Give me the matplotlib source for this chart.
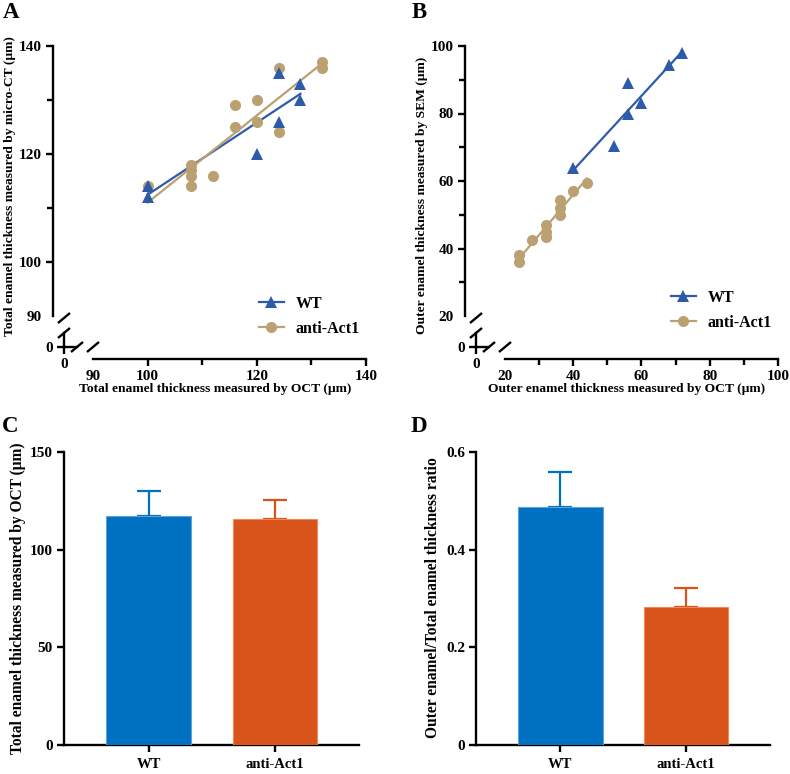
import numpy as np
import matplotlib
matplotlib.use('Agg')
import matplotlib.pyplot as plt
from matplotlib.lines import Line2D

plt.rcParams['font.family'] = ['Liberation Serif', 'DejaVu Serif']
plt.rcParams['font.weight'] = 'bold'
plt.rcParams['axes.labelweight'] = 'bold'

# ---------------- data ----------------
groups = ['WT', 'anti-Act1']

a_wt_x = [100, 100, 120, 124, 124, 128, 128]
a_wt_y = [114, 112, 120, 135, 126, 133, 130]
a_ko_x = [100, 108, 108, 108, 108, 112, 116, 116, 120, 120, 124, 124, 132, 132]
a_ko_y = [114, 118, 117, 116, 114, 116, 129, 125, 130, 126, 136, 124, 137, 136]

b_wt_x = [40, 52, 56, 56, 60, 68, 72]
b_wt_y = [64, 70.5, 89, 80, 83, 94.5, 98]
b_ko_x = [24, 24, 28, 32, 32, 32, 36, 36, 36, 40, 44]
b_ko_y = [38, 36, 42.5, 47, 45, 43.5, 54.5, 52, 50, 57, 59.5]

c_mean = [117.2, 115.9]
c_sd = [12.8, 9.5]
d_mean = [0.488, 0.283]
d_sd = [0.071, 0.039]

# ---------------- style ----------------
W, H = 790, 774
C_WT = '#2D5BAA'
C_KO = '#BBA071'
BAR_C = ['#0070C0', '#D9541A']
BAR_E = ['#5DA3DC', '#EE8A5C']
LW = 1.7
TICK_FS = 11
LAB_FS = 9.7
BAR_LAB_FS = 11.2

fig = plt.figure(figsize=(W / 100, H / 100), dpi=100)


def rect(x0, y0, x1, y1):
    return [x0 / W, 1 - y1 / H, (x1 - x0) / W, (y1 - y0) / H]


def fpt(x, y):
    return x / W, 1 - y / H


def style_axes(ax):
    for s in ['top', 'right']:
        ax.spines[s].set_visible(False)
    for s in ['left', 'bottom']:
        ax.spines[s].set_linewidth(LW)
    ax.tick_params(which='major', direction='out', length=5, width=LW,
                   labelsize=TICK_FS, pad=3)
    ax.tick_params(which='minor', direction='out', length=4.5, width=LW)


def slash(cx, cy):
    x0, y0 = fpt(cx - 6, cy + 5)
    x1, y1 = fpt(cx + 6, cy - 5)
    fig.add_artist(Line2D([x0, x1], [y0, y1], transform=fig.transFigure,
                          color='black', lw=LW, solid_capstyle='butt'))


def scatter_panel(px, wt_x, wt_y, ko_x, ko_y, lo, hi, major, minor,
                  xlabel, ylabel, ylab_cy, leg_xy):
    x0 = px
    ax = fig.add_axes(rect(x0 + 29, 46, x0 + 302, 316))
    style_axes(ax)
    ax.spines['left'].set_position(('outward', 29))
    ax.spines['bottom'].set_position(('outward', 31))
    ax.set_xlim(lo, hi)
    ax.set_ylim(lo, hi)
    ax.set_xticks(major)
    ax.set_yticks(major)
    ax.set_xticks(minor, minor=True)
    ax.set_yticks(minor, minor=True)
    ax.xaxis.get_major_ticks()[0].tick1line.set_visible(False)
    ax.yaxis.get_major_ticks()[0].tick1line.set_visible(False)

    for xs, ys, c in [(wt_x, wt_y, C_WT), (ko_x, ko_y, C_KO)]:
        xs = np.asarray(xs, float)
        ys = np.asarray(ys, float)
        k, b = np.polyfit(xs, ys, 1)
        xl = np.array([xs.min(), xs.max()])
        ax.plot(xl, k * xl + b, color=c, lw=1.6, zorder=2)
    ax.plot(ko_x, ko_y, 'o', color=C_KO, ms=8, mew=0, zorder=3)
    ax.plot(wt_x, wt_y, '^', color=C_WT, ms=8.5, mew=0, zorder=4)

    h1 = Line2D([], [], color=C_WT, lw=1.6, marker='^', ms=8.5, mew=0)
    h2 = Line2D([], [], color=C_KO, lw=1.6, marker='o', ms=8, mew=0)
    lx, ly = fpt(*leg_xy)
    ax.legend([h1, h2], groups, loc='upper left', bbox_to_anchor=(lx, ly),
              bbox_transform=fig.transFigure, frameon=False, borderpad=0,
              borderaxespad=0, handlelength=1.55, handletextpad=0.75,
              labelspacing=0.55, numpoints=1, prop={'size': 11.5, 'weight': 'bold'})

    # corner stub axes (origin part of the broken axes)
    cx = fig.add_axes(rect(x0, 333, x0 + 13, 347))
    style_axes(cx)
    cx.patch.set_visible(False)
    cx.set_xlim(0, 1)
    cx.set_ylim(0, 1)
    cx.set_xticks([0])
    cx.set_yticks([0])

    slash(x0, 318)
    slash(x0, 333)
    slash(x0 + 13, 347)
    slash(x0 + 29, 347)

    xx, yy = fpt(x0 + 151, 389)
    fig.text(xx, yy, xlabel, ha='center', va='center', fontsize=LAB_FS, fontweight='bold')
    xx, yy = fpt(px - 54, ylab_cy)
    fig.text(xx, yy, ylabel, ha='center', va='center', rotation=90,
             fontsize=LAB_FS, fontweight='bold')
    return ax


scatter_panel(64, a_wt_x, a_wt_y, a_ko_x, a_ko_y, 90, 140,
              [90, 100, 120, 140], [110, 130],
              'Total enamel thickness measured by OCT (μm)',
              'Total enamel thickness measured by micro-CT (μm)', 186, (259, 296))
scatter_panel(476, b_wt_x, b_wt_y, b_ko_x, b_ko_y, 20, 100,
              [20, 40, 60, 80, 100], [30, 50, 70, 90],
              'Outer enamel thickness measured by OCT (μm)',
              'Outer enamel thickness measured by SEM (μm)', 195, (671, 290))


def bar_panel(px, pr, means, sds, ymax, yticks, yticklabels, ylabel, ylab_x):
    ax = fig.add_axes(rect(px, 452, pr, 745))
    style_axes(ax)
    x = np.arange(len(groups))
    ax.bar(x, means, width=0.67, color=BAR_C, edgecolor=BAR_E, linewidth=0.8, zorder=3)
    for i in range(len(groups)):
        ax.errorbar(x[i], means[i], yerr=[[0], [sds[i]]], fmt='none',
                    ecolor=BAR_C[i], elinewidth=1.6, capsize=8.3, capthick=1.6, zorder=2)
    ax.set_xlim(-0.672, 1.668)
    ax.set_ylim(0, ymax)
    ax.set_yticks(yticks)
    ax.set_yticklabels(yticklabels)
    ax.set_xticks(x)
    ax.set_xticklabels(groups)
    ax.tick_params(axis='x', labelsize=10.5, pad=4)
    xx, yy = fpt(ylab_x, 598)
    fig.text(xx, yy, ylabel, ha='center', va='center', rotation=90,
             fontsize=BAR_LAB_FS, fontweight='bold')
    return ax


bar_panel(64, 359, c_mean, c_sd, 150, [0, 50, 100, 150], ['0', '50', '100', '150'],
          'Total enamel thickness measured by OCT (μm)', 18)
bar_panel(476, 770, d_mean, d_sd, 0.6, [0, 0.2, 0.4, 0.6], ['0', '0.2', '0.4', '0.6'],
          'Outer enamel/Total enamel thickness ratio', 433)

for letter, (lx, ly) in [('A', (3, 13)), ('B', (412, 13)), ('C', (2, 426)), ('D', (411, 426))]:
    xx, yy = fpt(lx, ly)
    fig.text(xx, yy, letter, ha='left', va='center', fontsize=16.5, fontweight='bold')

fig.savefig('out.png', dpi=100)
